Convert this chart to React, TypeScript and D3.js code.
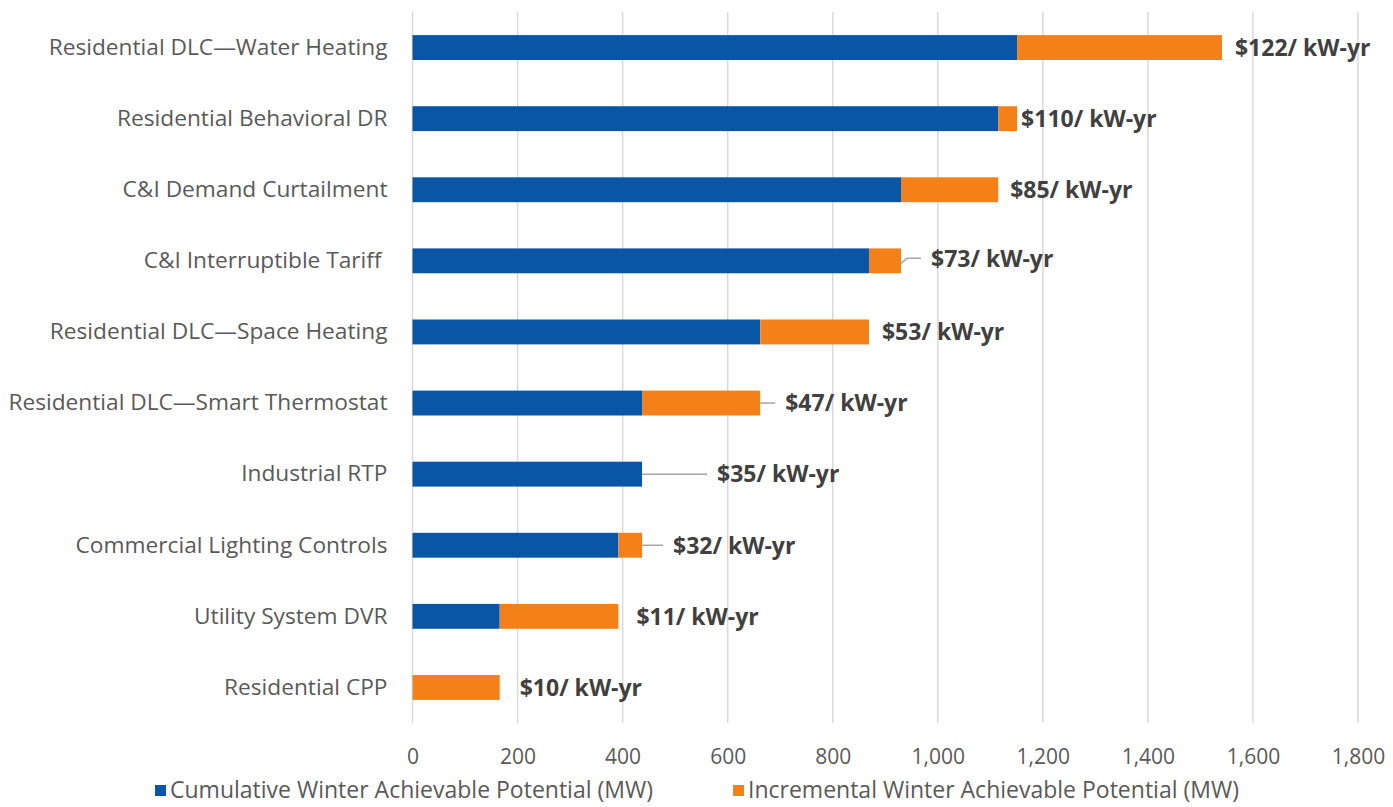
import { useEffect, useRef } from 'react';
import * as d3 from 'd3';

// Measures, top to bottom as drawn
const categories = [
  'Residential DLC\u2014Water Heating',
  'Residential Behavioral DR',
  'C&I Demand Curtailment',
  'C&I Interruptible Tariff ',
  'Residential DLC\u2014Space Heating',
  'Residential DLC\u2014Smart Thermostat',
  'Industrial RTP',
  'Commercial Lighting Controls',
  'Utility System DVR',
  'Residential CPP',
];

// Cumulative Winter Achievable Potential (MW)
const cumulative = [1151, 1115, 930, 869, 662, 437, 437, 392, 166, 0];
// Incremental Winter Achievable Potential (MW)
const incremental = [390, 36, 185, 61, 207, 225, 0, 45, 226, 166];
// levelized cost, $/kW-yr
const costs = [122, 110, 85, 73, 53, 47, 35, 32, 11, 10];

const xTicks = [0, 200, 400, 600, 800, 1000, 1200, 1400, 1600, 1800];

const seriesNames = [
  'Cumulative Winter Achievable Potential (MW)',
  'Incremental Winter Achievable Potential (MW)',
];

// label placement (px gap after bar end), leader lines and their kink
const labelGap = [13, 4, 12, 30, 13, 25, 75, 31, 18, 20];
const hasLeader = [false, false, false, true, false, true, true, true, false, false];
const leaderRise = [0, 0, 0, 5, 0, 0, 0, 0, 0, 0];

const BLUE = '#0a56a6';
const ORANGE = '#f4801a';
const FONT = '"Open Sans", sans-serif';

export default function App(): JSX.Element {
  const svgRef = useRef<SVGSVGElement>(null);

  useEffect(() => {
    if (!svgRef.current) return;
    const svg = d3.select(svgRef.current);
    svg.selectAll('*').remove();

    const top = 12;
    const bottom = 723;

    const x = d3.scaleLinear().domain([0, 1800]).range([412.5, 1358]);
    const y = d3.scaleBand<string>()
      .domain(categories)
      .range([top, bottom])
      .paddingInner(0.65)
      .paddingOuter(0.325);

    // Grid lines
    svg.append('g')
      .selectAll('line')
      .data(xTicks)
      .enter()
      .append('line')
      .attr('x1', d => x(d))
      .attr('x2', d => x(d))
      .attr('y1', top)
      .attr('y2', bottom)
      .attr('stroke', '#d9d9d9')
      .attr('stroke-width', 1.5);

    // X axis labels
    const xAxis = svg.append('g')
      .attr('transform', `translate(0,${bottom})`)
      .call(d3.axisBottom(x)
        .tickValues(xTicks)
        .tickSize(0)
        .tickPadding(26)
        .tickFormat(d3.format(',')));
    xAxis.select('.domain').remove();
    xAxis.selectAll('text')
      .style('font-family', FONT)
      .style('font-size', '21px')
      .style('fill', '#595959');

    // Category labels
    const yAxis = svg.append('g')
      .attr('transform', `translate(${x(0)},0)`)
      .call(d3.axisLeft(y).tickSize(0).tickPadding(25));
    yAxis.select('.domain').remove();
    yAxis.selectAll('text')
      .style('font-family', FONT)
      .style('font-size', '22.7px')
      .style('fill', '#595959')
      .style('white-space', 'pre');

    const rows = categories.map((c, i) => ({
      c,
      cum: cumulative[i],
      inc: incremental[i],
      total: cumulative[i] + incremental[i],
      cost: costs[i],
      gap: labelGap[i],
      leader: hasLeader[i],
      rise: leaderRise[i],
    }));

    // Cumulative bars
    svg.append('g')
      .selectAll('rect')
      .data(rows.filter(d => d.cum > 0))
      .enter()
      .append('rect')
      .attr('x', x(0))
      .attr('y', d => y(d.c)!)
      .attr('width', d => x(d.cum) - x(0))
      .attr('height', y.bandwidth())
      .attr('fill', BLUE);

    // Incremental bars
    svg.append('g')
      .selectAll('rect')
      .data(rows.filter(d => d.inc > 0))
      .enter()
      .append('rect')
      .attr('x', d => x(d.cum))
      .attr('y', d => y(d.c)!)
      .attr('width', d => x(d.total) - x(d.cum))
      .attr('height', y.bandwidth())
      .attr('fill', ORANGE);

    // Leader lines
    svg.append('g')
      .selectAll('path')
      .data(rows.filter(d => d.leader))
      .enter()
      .append('path')
      .attr('d', d => {
        const cy = y(d.c)! + y.bandwidth() / 2;
        const x0 = x(d.total);
        const x1 = x0 + d.gap - 10;
        if (!d.rise) return `M${x0},${cy}H${x1}`;
        return `M${x0},${cy + d.rise / 2}L${x0 + 6},${cy - d.rise / 2}H${x1}`;
      })
      .attr('fill', 'none')
      .attr('stroke', '#a6a6a6')
      .attr('stroke-width', 1.5);

    // Cost labels
    svg.append('g')
      .selectAll('text')
      .data(rows)
      .enter()
      .append('text')
      .attr('x', d => x(d.total) + d.gap)
      .attr('y', d => y(d.c)! + y.bandwidth() / 2 - d.rise / 2)
      .attr('dy', '0.36em')
      .style('font-family', FONT)
      .style('font-size', '23px')
      .style('font-weight', 700)
      .style('fill', '#404040')
      .text(d => `$${d.cost}/ kW-yr`);

    // Legend
    const legendX = [155, 733];
    const legend = svg.append('g')
      .selectAll('g')
      .data(seriesNames)
      .enter()
      .append('g')
      .attr('transform', (_, i) => `translate(${legendX[i]},790)`);
    legend.append('rect')
      .attr('x', 0)
      .attr('y', -5)
      .attr('width', 11)
      .attr('height', 11)
      .attr('fill', (_, i) => (i === 0 ? BLUE : ORANGE));
    legend.append('text')
      .attr('x', 15)
      .attr('dy', '0.36em')
      .style('font-family', FONT)
      .style('font-size', '23px')
      .style('fill', '#595959')
      .text(d => d);
  }, []);

  return (
    <svg
      ref={svgRef}
      width={1393}
      height={807}
      style={{ position: 'absolute', left: 0, top: 0, background: '#fff' }}
    />
  );
}
